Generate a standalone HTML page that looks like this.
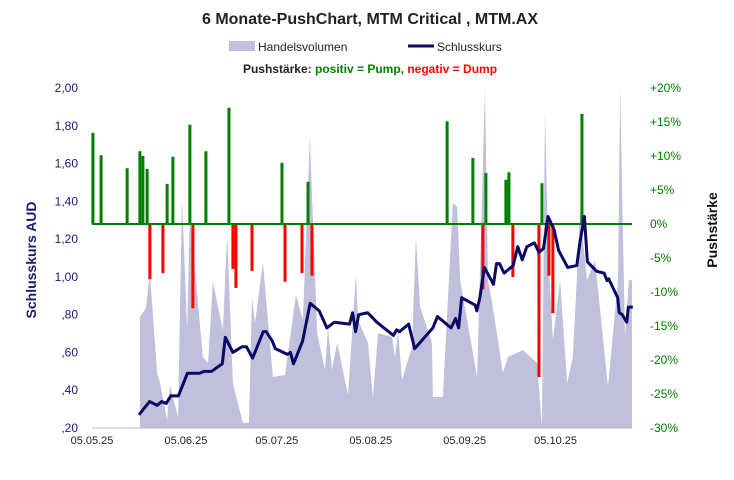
<!DOCTYPE html>
<html><head><meta charset="utf-8"><style>
body{margin:0;background:#fff;}
svg{display:block;font-family:"Liberation Sans",sans-serif;}
</style></head><body>
<svg id="c" width="734" height="480">
<text x="370" y="24" text-anchor="middle" font-size="16" font-weight="bold" fill="#222">6 Monate-PushChart,  MTM Critical , MTM.AX</text>
<g>
<rect x="229" y="41" width="26" height="10" fill="#c0c0dc"/>
<text x="258" y="51" font-size="12" fill="#222">Handelsvolumen</text>
<line x1="408" y1="46" x2="434" y2="46" stroke="#0a0a64" stroke-width="3"/>
<text x="437" y="51" font-size="12" fill="#222">Schlusskurs</text>
<text x="370" y="73" text-anchor="middle" font-size="12" font-weight="bold"><tspan fill="#222">Pushstärke:  </tspan><tspan fill="#008000">positiv = Pump,</tspan><tspan fill="#ff0000">  negativ = Dump</tspan></text>
</g>
<text transform="translate(36,260) rotate(-90)" text-anchor="middle" font-size="14" font-weight="bold" fill="#1a1a6e">Schlusskurs AUD</text>
<text transform="translate(717,230) rotate(-90)" text-anchor="middle" font-size="14" font-weight="bold" fill="#111">Pushstärke</text>
<g id="g"></g>
</svg>
<script>
const xTickDays=[0,31,61,92,123,153];
const xTickLabels=["05.05.25","05.06.25","05.07.25","05.08.25","05.09.25","05.10.25"];
const leftTicks=[2.0,1.8,1.6,1.4,1.2,1.0,0.8,0.6,0.4,0.2];
const leftTickLabels=["2,00","1,80","1,60","1,40","1,20","1,00",",80",",60",",40",",20"];
const rightTicks=[20,15,10,5,0,-5,-10,-15,-20,-25,-30];
const rightTickLabels=["+20%","+15%","+10%","+5%","0%","-5%","-10%","-15%","-20%","-25%","-30%"];
const priceDays=[15.5,17.5,19,21.5,23,24.5,26,28.5,31.5,35.5,37,39.5,43,44,46.5,49.5,51,53,56.5,57.5,59.5,60.5,64.5,65.5,66.5,69.5,72,75,77.5,80,85,86,87,88,91,94,99.5,100.5,101.5,104.5,106.5,112.5,114,115.5,118.5,120,121,122,126.5,127,128,129.5,132.5,133.5,134.5,136,139,140.5,142,143.5,146,147.5,149,150.5,152.5,154,157,160,161,162.5,163.5,166.5,169,170,170.5,173.5,174,175,176.5,177,178.5];
const priceVals=[0.27,0.31,0.34,0.32,0.34,0.33,0.37,0.37,0.49,0.49,0.50,0.50,0.54,0.68,0.60,0.63,0.63,0.57,0.71,0.71,0.66,0.62,0.59,0.60,0.54,0.66,0.86,0.82,0.73,0.76,0.75,0.81,0.71,0.80,0.81,0.76,0.69,0.72,0.71,0.75,0.62,0.73,0.79,0.77,0.73,0.78,0.73,0.89,0.85,0.82,0.89,1.05,0.96,1.07,1.07,1.02,1.06,1.16,1.09,1.16,1.18,1.13,1.15,1.32,1.25,1.14,1.05,1.06,1.18,1.32,1.08,1.03,1.02,0.98,0.99,0.89,0.81,0.80,0.76,0.84,0.84];
const volDays=[15.8,17.8,19.1,21.5,22.4,24.8,25.7,28.4,29.7,31.4,32.3,36.6,38.3,39.9,43.2,44.6,46.5,49.8,51.8,52.8,53.8,56.4,59.7,63.7,67.3,69.6,71.9,74.3,76.9,77.9,79.2,80.9,84.5,87.1,87.8,91.1,92.7,94.4,99,100,101,102.3,105.6,106.9,108.3,112.2,112.5,115.8,119.1,120.5,121.5,127.1,129.7,130.7,132.3,135.6,137.3,142.2,146.9,148.5,149.5,150.5,152.1,154.5,156.8,158.7,161.1,163.4,166,170.3,173.6,174.3,175.9,177.2,178.2];
const volVals=[32.6,35.3,45.6,16.2,13.5,2.4,12.6,3.2,67.9,28.8,63.2,20.9,19.1,42.9,28.8,56.8,13.2,1.5,1.5,38.5,30.9,48.8,15,15.6,39.1,31.8,85.6,27.9,17.1,29.7,17.1,25,9.7,45,31.8,25,8.8,27.9,26.8,20.9,28.8,14.1,23.8,56.2,35.6,25,9.1,9.1,66.2,65,43.5,15,100,43.5,35.6,16.2,20.9,22.9,19.1,0.3,93.5,53.2,25.9,43.5,13.2,20.9,63.2,43.5,49.4,12.1,43.5,100,26.8,43.5,43.5];
const pushDays=[0.3,3,11.6,15.8,16.8,18.2,24.8,26.7,32.3,37.6,45.2,62.7,71.3,19.1,23.4,33.3,46.5,47.5,52.8,63.7,69.3,72.6,117.2,125.7,130,136.6,137.6,148.5,161.7,129,138.9,147.5,150.8,152.1];
const pushVals=[13.4,10.1,8.2,10.7,10,8.1,5.9,9.9,14.6,10.7,17.1,9,6.2,-8.1,-7.2,-12.4,-6.6,-9.4,-6.9,-8.5,-7.2,-7.6,15.1,9.7,7.5,6.5,7.6,6,16.2,-9.6,-7.8,-22.5,-7.6,-13.1];

const X0=92,X1=632,T=88,B=428;
const xs=d=>X0+d*3.03;
const yl=v=>T+(2.0-v)/1.8*(B-T);
const yr=p=>T+(20-p)/50*(B-T);
const yv=v=>B-v/100*(B-T);
const g=document.getElementById('g');
const NS="http://www.w3.org/2000/svg";
function mk(t,a){const e=document.createElementNS(NS,t);for(const k in a)e.setAttribute(k,a[k]);g.appendChild(e);return e;}

// volume area
let d=`M${xs(volDays[0])},${B}`;
volDays.forEach((v,i)=>d+=` L${xs(v)},${yv(volVals[i])}`);
d+=` L${xs(volDays[volDays.length-1])},${B} Z`;
const va=mk('path',{d:d,fill:'#c0c0dc'});



// axis baseline
const ax=mk('line',{x1:X0,y1:B,x2:X1,y2:B,stroke:'#bbb','stroke-width':1});



// push bars
pushDays.forEach((dd,i)=>{
  const p=pushVals[i];const y0=yr(0),y1=yr(p);
  const r=mk('rect',{x:xs(dd)-1.5,y:Math.min(y0,y1),width:3,height:Math.abs(y1-y0),fill:p>=0?'#008000':'#ff0000'});
  
  
});
const zl=mk('line',{x1:X0,y1:yr(0),x2:X1,y2:yr(0),stroke:'#008000','stroke-width':2});



// price line
const pts=priceDays.map((dd,i)=>xs(dd)+','+yl(priceVals[i])).join(' ');
const pl=mk('polyline',{points:pts,fill:'none',stroke:'#0a0a64','stroke-width':3,'stroke-linejoin':'round'});



// ticks
leftTicks.forEach((v,i)=>{
  const t=mk('text',{x:78,y:yl(v)+4,'text-anchor':'end','font-size':12,fill:'#1a1a6e'});
  t.textContent=leftTickLabels[i];
  
  
});
rightTicks.forEach((v,i)=>{
  const t=mk('text',{x:650,y:yr(v)+4,'font-size':12,fill:'#008000'});
  t.textContent=rightTickLabels[i];
  
  
});
xTickDays.forEach((v,i)=>{
  const t=mk('text',{x:xs(v),y:444,'text-anchor':'middle','font-size':11,fill:'#222'});
  t.textContent=xTickLabels[i];
  
  
});
</script>
</body></html>
